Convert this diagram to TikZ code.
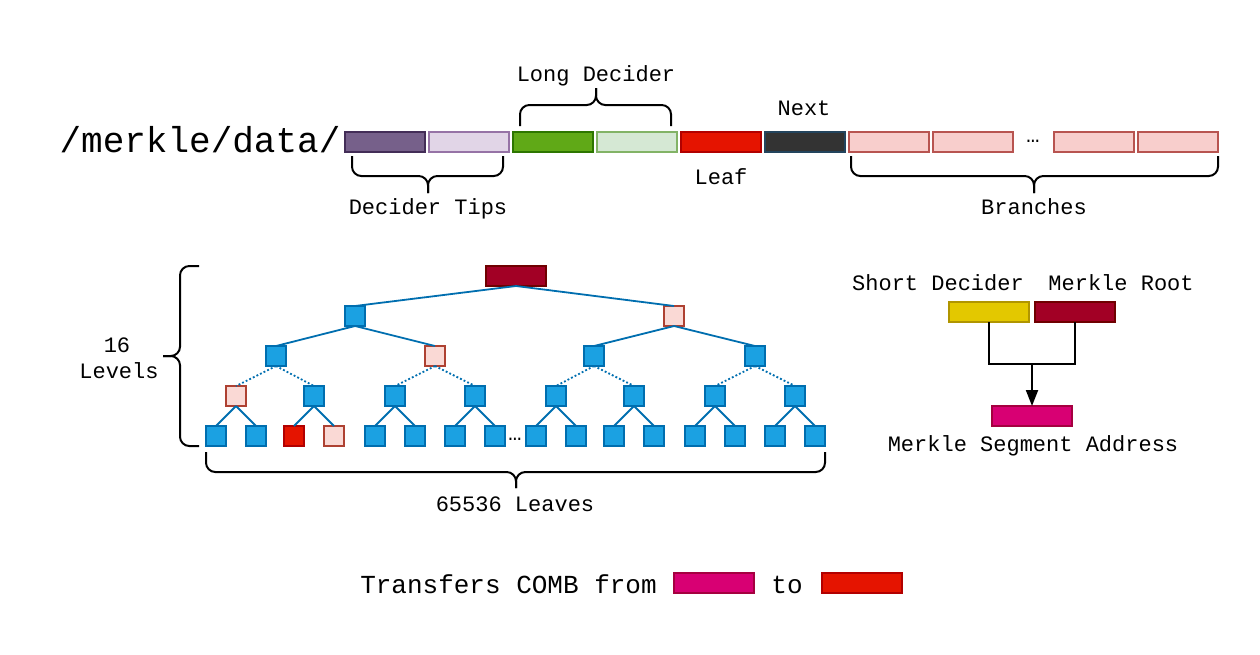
\documentclass[tikz,border=0pt]{standalone}
\usepackage{fontspec}
\setmainfont{Liberation Mono}
\usetikzlibrary{arrows.meta}
\definecolor{cPurple}{HTML}{76608A}\definecolor{sPurple}{HTML}{432D57}
\definecolor{cLPurple}{HTML}{E1D5E7}\definecolor{sLPurple}{HTML}{9673A6}
\definecolor{cGreen}{HTML}{60A917}\definecolor{sGreen}{HTML}{2D7600}
\definecolor{cLGreen}{HTML}{D5E8D4}\definecolor{sLGreen}{HTML}{82B366}
\definecolor{cRed}{HTML}{E51400}\definecolor{sRed}{HTML}{B20000}
\definecolor{cDark}{HTML}{333333}\definecolor{sDark}{HTML}{23445D}
\definecolor{cPink}{HTML}{F8CECC}\definecolor{sPink}{HTML}{B85450}
\definecolor{cBlue}{HTML}{1BA1E2}\definecolor{sBlue}{HTML}{006EAF}
\definecolor{cTPink}{HTML}{FAD9D5}\definecolor{sTPink}{HTML}{AE4132}
\definecolor{cCrimson}{HTML}{A20025}\definecolor{sCrimson}{HTML}{6F0000}
\definecolor{cYellow}{HTML}{E3C800}\definecolor{sYellow}{HTML}{B09500}
\definecolor{cMagenta}{HTML}{D80073}\definecolor{sMagenta}{HTML}{A50040}
\begin{document}
\begin{tikzpicture}[x=0.75pt,y=-0.75pt,
  bar/.style={draw, line width=1.5pt, minimum width=60pt, minimum height=15pt, inner sep=0pt, outer sep=0pt},
  sq/.style={draw=sBlue, fill=cBlue, line width=1.3pt, minimum width=15pt, minimum height=15pt, inner sep=0pt, outer sep=0pt},
  sqpink/.style={sq, draw=sTPink, fill=cTPink},
  sqred/.style={sq, draw=sRed, fill=cRed},
  lbl/.style={font=\fontsize{16.5}{19.5}\selectfont, inner sep=0pt, anchor=base},
  brace/.style={draw=black, line width=1.5pt, rounded corners=7pt},
  edge/.style={draw=sBlue, line width=1.35pt},
  dotedge/.style={edge, dash pattern=on 1.4pt off 1.6pt},
  conn/.style={draw=black, line width=1.5pt}]
\useasboundingbox (0,0) rectangle (1260,654);
% title
\node[font=\fontsize{27}{30}\selectfont, inner sep=0pt, anchor=base] (title) at (200,152) {/merkle/data/};
% top bar
\node[bar, fill=cPurple, draw=sPurple] (b1) at (385,142) {};
\node[bar, fill=cLPurple, draw=sLPurple] (b2) at (469,142) {};
\node[bar, fill=cGreen, draw=sGreen] (b3) at (553,142) {};
\node[bar, fill=cLGreen, draw=sLGreen] (b4) at (637,142) {};
\node[bar, fill=cRed, draw=sRed] (b5) at (721,142) {};
\node[bar, fill=cDark, draw=sDark] (b6) at (805,142) {};
\node[bar, fill=cPink, draw=sPink] (b7) at (889,142) {};
\node[bar, fill=cPink, draw=sPink] (b8) at (973,142) {};
\node[bar, fill=cPink, draw=sPink] (b9) at (1094,142) {};
\node[bar, fill=cPink, draw=sPink] (b10) at (1178,142) {};
\node[lbl] (bdots) at (1033,142) {…};
% labels top
\node[lbl] (tLong) at (596,81) {Long Decider};
\node[lbl] (tNext) at (804,115) {Next};
\node[lbl] (tLeaf) at (721,184) {Leaf};
\node[lbl] (tTips) at (428,214) {Decider Tips};
\node[lbl] (tBranch) at (1034,214) {Branches};
% braces top
\draw[brace] (520,126) |- (596,105) -- (596,88);
\draw[brace] (671,126) |- (596,105) -- (596,88);
\draw[brace] (352,156) |- (428,176) -- (428,193);
\draw[brace] (503,156) |- (428,176) -- (428,193);
\draw[brace] (851,156) |- (1034,176) -- (1034,193);
\draw[brace] (1218,156) |- (1034,176) -- (1034,193);
% tree
\node[draw=sCrimson, fill=cCrimson, line width=1.3pt, minimum width=45pt, minimum height=15pt, inner sep=0pt, outer sep=0pt] (r) at (516,276) {};
\node[sq] (l1a) at (355,316) {};
\node[sqpink] (l1b) at (674,316) {};
\node[sq] (l2a) at (276,356) {};
\node[sqpink] (l2b) at (435,356) {};
\node[sq] (l2c) at (594,356) {};
\node[sq] (l2d) at (755,356) {};
\foreach \x [count=\i] in {236,314,395,475,556,634,715,795} {
  \node[sq] (l3n\i) at (\x,396) {};
}
\node[sqpink] at (l3n1) {};
\foreach \x [count=\i] in {216,256,294,334,375,415,455,495,536,576,614,654,695,735,775,815} {
  \node[sq] (l4n\i) at (\x,436) {};
}
\node[sqred] at (l4n3) {};
\node[sqpink] at (l4n4) {};
\node[lbl] (tdots) at (515,440) {…};
\draw[edge] (r.south) -- (l1a.north);
\draw[edge] (r.south) -- (l1b.north);
\draw[edge] (l1a.south) -- (l2a.north);
\draw[edge] (l1a.south) -- (l2b.north);
\draw[edge] (l1b.south) -- (l2c.north);
\draw[edge] (l1b.south) -- (l2d.north);
\draw[dotedge] (l2a.south) -- (l3n1.north);
\draw[dotedge] (l2a.south) -- (l3n2.north);
\draw[dotedge] (l2b.south) -- (l3n3.north);
\draw[dotedge] (l2b.south) -- (l3n4.north);
\draw[dotedge] (l2c.south) -- (l3n5.north);
\draw[dotedge] (l2c.south) -- (l3n6.north);
\draw[dotedge] (l2d.south) -- (l3n7.north);
\draw[dotedge] (l2d.south) -- (l3n8.north);
\foreach \i in {1,...,8} {
  \pgfmathtruncatemacro{\ca}{2*\i-1}
  \pgfmathtruncatemacro{\cb}{2*\i}
  \draw[edge] (l3n\i.south) -- (l4n\ca.north);
  \draw[edge] (l3n\i.south) -- (l4n\cb.north);
}
% tree braces
\draw[brace] (199,266) -| (180,356) -- (163,356);
\draw[brace] (199,446) -| (180,356) -- (163,356);
\node[lbl] (tSixteen) at (117,352) {16};
\node[lbl] (tLevels) at (119,378) {Levels};
\draw[brace] (206,452) |- (516,472) -- (516,488);
\draw[brace] (825,452) |- (516,472) -- (516,488);
\node[lbl] (tLeaves) at (515,511) {65536 Leaves};
% right part
\node[bar, fill=cYellow, draw=sYellow] (sd) at (989,312) {};
\node[bar, fill=cCrimson, draw=sCrimson] (mr) at (1075,312) {};
\node[bar, fill=cMagenta, draw=sMagenta] (msa) at (1032,416) {};
\node[lbl] (tSD) at (938,290) {Short Decider};
\node[lbl] (tMR) at (1121,290) {Merkle Root};
\node[lbl] (tMSA) at (1033,451) {Merkle Segment Address};
\coordinate (j) at (1032,364);
\draw[conn] (sd.south) |- (j);
\draw[conn] (mr.south) |- (j);
\draw[conn, -{Triangle[length=12pt, width=9pt]}] (j) -- (msa.north);
% bottom
\node[font=\fontsize{19.5}{22}\selectfont, inner sep=0pt, anchor=base east] (tTrans) at (657,593) {Transfers COMB from};
\node[bar, fill=cMagenta, draw=sMagenta] (fromb) at (714,583) {};
\node[font=\fontsize{19.5}{22}\selectfont, inner sep=0pt, anchor=base] (tTo) at (787,593) {to};
\node[bar, fill=cRed, draw=sRed] (tob) at (862,583) {};
\end{tikzpicture}
\end{document}
